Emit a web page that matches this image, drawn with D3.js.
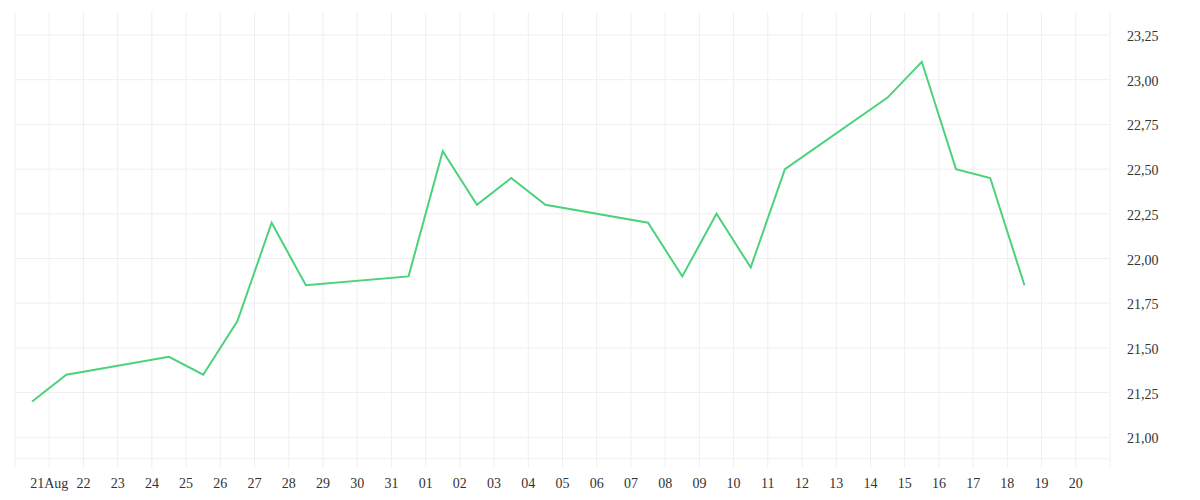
<!DOCTYPE html>
<html>
<head>
<meta charset="utf-8">
<script src="https://cdn.jsdelivr.net/npm/d3@7"></script>
<style>
  html, body { margin: 0; padding: 0; background: #fff; }
  text { font-family: "Liberation Serif", serif; font-size: 14px; fill: #333; }
</style>
</head>
<body>
<div id="chart"></div>
<script>
const w = 1200
const h = 500

// data, one point per trading day (noon)
const dates = ['2020-08-20', '2020-08-21', '2020-08-24', '2020-08-25', '2020-08-26', '2020-08-27',
    '2020-08-28', '2020-08-31', '2020-09-01', '2020-09-02', '2020-09-03', '2020-09-04',
    '2020-09-07', '2020-09-08', '2020-09-09', '2020-09-10', '2020-09-11', '2020-09-14',
    '2020-09-15', '2020-09-16', '2020-09-17', '2020-09-18']
const values = [21.20, 21.35, 21.45, 21.35, 21.65, 22.20,
    21.85, 21.90, 22.60, 22.30, 22.45, 22.30,
    22.20, 21.90, 22.25, 21.95, 22.50, 22.90,
    23.10, 22.50, 22.45, 21.85]
const yTicks = [21.00, 21.25, 21.50, 21.75, 22.00, 22.25, 22.50, 22.75, 23.00, 23.25]
const xStart = '2020-08-20'
const xEnd = '2020-09-21'

const parse = d3.utcParse('%Y-%m-%d')
const data = dates.map(function(d, i){
    return {date: new Date(parse(d).getTime() + 12 * 3600 * 1000), value: values[i]}
})

const plotLeft = 15, plotRight = 1110, plotTop = 12, plotBottom = 468

const xScale = d3.scaleUtc()
    .domain([parse(xStart), parse(xEnd)])
    .range([plotLeft, plotRight])

const yScale = d3.scaleLinear()
    .domain([21, 23.25])
    .range([437.3, 35])

const svg = d3.select('#chart')
    .append('svg')
    .attr('width', w)
    .attr('height', h)

const days = d3.utcDay.range(parse(xStart), d3.utcDay.offset(parse(xEnd), 1))

// grid
svg.append('g')
    .selectAll('line')
    .data(days)
    .enter()
    .append('line')
    .attr('x1', function(d){ return xScale(d) })
    .attr('x2', function(d){ return xScale(d) })
    .attr('y1', plotTop)
    .attr('y2', plotBottom)
    .style('stroke', '#efefef')
    .style('stroke-width', 1)

svg.append('g')
    .selectAll('line')
    .data(yTicks.concat([20.88]))
    .enter()
    .append('line')
    .attr('x1', plotLeft)
    .attr('x2', plotRight)
    .attr('y1', function(d){ return yScale(d) })
    .attr('y2', function(d){ return yScale(d) })
    .style('stroke', '#efefef')
    .style('stroke-width', 1)

// y labels on the right
const fmt = d3.format('.2f')
svg.append('g')
    .selectAll('text')
    .data(yTicks)
    .enter()
    .append('text')
    .attr('x', 1127)
    .attr('y', function(d){ return yScale(d) + 6 })
    .text(function(d){ return fmt(d).replace('.', ',') })

// x labels
const xLabels = days.filter(function(d){
    return d > parse(xStart) && d < parse(xEnd)
})
svg.append('g')
    .selectAll('text')
    .data(xLabels)
    .enter()
    .append('text')
    .attr('text-anchor', 'middle')
    .attr('x', function(d){ return xScale(d) })
    .attr('y', 488)
    .text(function(d, i){
        return i === 0 ? d3.utcFormat('%d%b')(d) : d3.utcFormat('%d')(d)
    })

// the line
const line = d3.line()
    .x(function(d){ return xScale(d.date) })
    .y(function(d){ return yScale(d.value) })

svg.append('path')
    .datum(data)
    .attr('d', line)
    .attr('fill', 'none')
    .attr('stroke', '#4bd27b')
    .attr('stroke-width', 2)
    .attr('stroke-linejoin', 'miter')
</script>
</body>
</html>
